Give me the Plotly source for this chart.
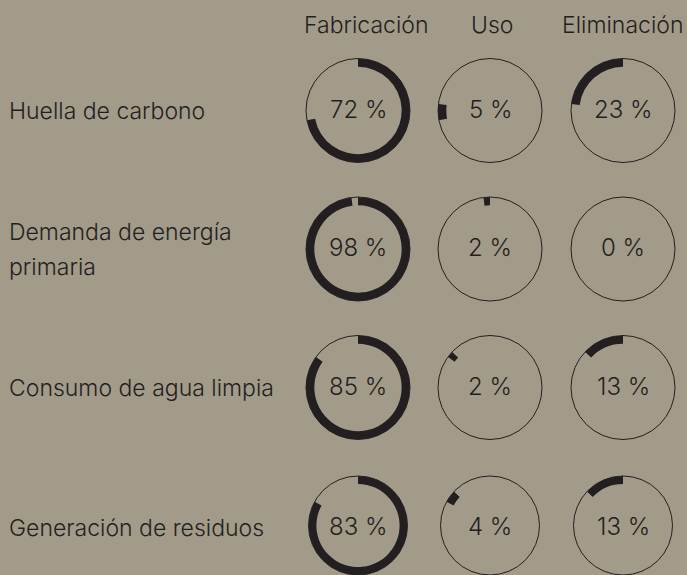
import plotly.graph_objects as go
import numpy as np

# ---- data ----
phases = ["Fabricación", "Uso", "Eliminación"]
indicators = ["Huella de carbono", "Demanda de energía<br>primaria",
              "Consumo de agua limpia", "Generación de residuos"]
fabricacion = [72, 98, 85, 83]
uso = [5, 2, 2, 4]
eliminacion = [23, 0, 13, 13]

# ---- layout constants ----
W, H = 687, 575
BG = "#a39b8a"
INK = "#231f20"
FONT = "Inter"
col_x = [358, 490, 623]
row_y = [110.5, 249, 387.5, 528]
head_x = [366, 492, 622]
head_y = 25
R = 51
ARC_W = 0.16
label_x = 7
line_gap = 35

values = np.array([fabricacion, uso, eliminacion]).T  # rows x phases
starts = np.cumsum(values, axis=1) - values

fig = go.Figure()
annotations = []
layout_polars = {}

def px(x):
    return min(max(x / W, 0), 1)

def py(y):
    return min(max(1 - y / H, 0), 1)

n = 0
for i, ind in enumerate(indicators):
    for j, ph in enumerate(phases):
        n += 1
        key = "polar" if n == 1 else f"polar{n}"
        v = values[i, j]
        s = starts[i, j]
        fig.add_trace(go.Barpolar(
            r=[ARC_W if v > 0 else 0], base=[1 - ARC_W],
            theta=[(s + v / 2) * 3.6], width=[v * 3.6],
            marker=dict(color=INK, line=dict(width=0)),
            subplot=key, showlegend=False, hoverinfo="skip"))
        cx, cy = col_x[j], row_y[i]
        layout_polars[key] = dict(
            domain=dict(x=[px(cx - R - 1), px(cx + R + 1)],
                        y=[py(cy + R + 1), py(cy - R - 1)]),
            bgcolor="rgba(0,0,0,0)",
            angularaxis=dict(rotation=90, direction="clockwise",
                             showline=True, linecolor=INK, linewidth=1,
                             showgrid=False, showticklabels=False, ticks=""),
            radialaxis=dict(range=[0, 1], visible=False),
        )
        annotations.append(dict(
            x=px(cx), y=py(cy - 1.5), xref="paper", yref="paper",
            text=f"{v} %", showarrow=False, xanchor="center", yanchor="middle",
            font=dict(family=FONT, size=24, color=INK, weight=300)))

for j, ph in enumerate(phases):
    annotations.append(dict(
        x=px(head_x[j]), y=py(head_y), xref="paper", yref="paper",
        text=ph, showarrow=False, xanchor="center", yanchor="middle",
        font=dict(family=FONT, size=23, color=INK, weight=300)))

for i, ind in enumerate(indicators):
    lines = ind.split("<br>")
    k = len(lines)
    for m, line in enumerate(lines):
        y = row_y[i] + (m - (k - 1) / 2) * line_gap
        annotations.append(dict(
            x=px(label_x), y=py(y), xref="paper", yref="paper",
            text=line, showarrow=False, xanchor="left", yanchor="middle",
            font=dict(family=FONT, size=23, color=INK, weight=300)))

fig.update_layout(
    width=W, height=H, margin=dict(l=0, r=0, t=0, b=0),
    paper_bgcolor=BG, plot_bgcolor=BG,
    annotations=annotations, **layout_polars)

fig.write_html("out.html", config={"displayModeBar": False},
               post_script="document.body.style.margin='0';")
